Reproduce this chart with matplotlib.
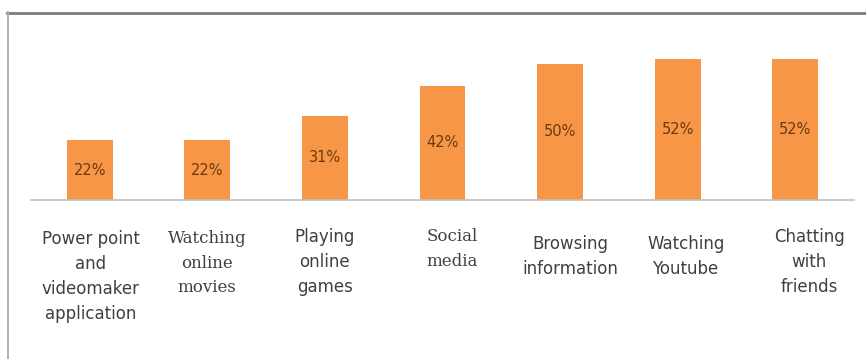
import matplotlib
matplotlib.use("Agg")
import matplotlib.pyplot as plt
from matplotlib.lines import Line2D
import matplotlib.transforms as mtransforms

categories = ["Power point\nand\nvideomaker\napplication", "Watching\nonline\nmovies",
              "Playing\nonline\ngames", "Social\nmedia", "Browsing\ninformation",
              "Watching\nYoutube", "Chatting\nwith\nfriends"]
values = [22, 22, 31, 42, 50, 52, 52]
value_labels = ["22%", "22%", "31%", "42%", "50%", "52%", "52%"]

# layout-only tweaks for the category labels
label_fonts = ["DejaVu Sans", "DejaVu Serif", "DejaVu Sans", "DejaVu Serif",
               "DejaVu Sans", "DejaVu Sans", "DejaVu Sans"]
label_dx_px = [1, 0, 0, 10, 10, 8, 14]
label_top_px = [230, 230, 228, 228, 235, 235, 228]
label_spacing = [1.5, 1.58, 1.5, 1.58, 1.5, 1.5, 1.5]

W, H = 866, 359
fig = plt.figure(figsize=(W / 100, H / 100), dpi=100)
fig.patch.set_facecolor("white")

ax = fig.add_axes([31 / W, 1 - 200 / H, (854 - 31) / W, 160 / H])
x = list(range(len(values)))
bars = ax.bar(x, values, width=0.39, color="#F79646", edgecolor="none")
ax.set_xlim(-0.5, len(values) - 0.5)
ax.set_ylim(0, 160 / 2.72)
ax.bar_label(bars, labels=value_labels, label_type="center", color="#6B3A12",
             fontsize=10.5, family="DejaVu Sans")

for s in ["top", "left", "right"]:
    ax.spines[s].set_visible(False)
ax.spines["bottom"].set_color("#c0c0c0")
ax.spines["bottom"].set_linewidth(1.2)
ax.set_xticks([])
ax.set_yticks([])

for i, lab in enumerate(categories):
    trans = mtransforms.blended_transform_factory(ax.transData, fig.transFigure)
    off = mtransforms.ScaledTranslation(label_dx_px[i] / 100, 0, fig.dpi_scale_trans)
    ax.text(x[i], 1 - label_top_px[i] / H, lab, transform=trans + off,
            ha="center", va="top", fontsize=12, color="#404040",
            family=label_fonts[i], linespacing=label_spacing[i])

# outer frame lines
fig.add_artist(Line2D([7 / W, 1], [1 - 12.5 / H, 1 - 12.5 / H], transform=fig.transFigure,
                      color="#7a7a7a", linewidth=2.0))
fig.add_artist(Line2D([8 / W, 8 / W], [1 - 12 / H, 0], transform=fig.transFigure,
                      color="#b0b0b0", linewidth=1.4))

fig.savefig("out.png", dpi=100, facecolor="white")
